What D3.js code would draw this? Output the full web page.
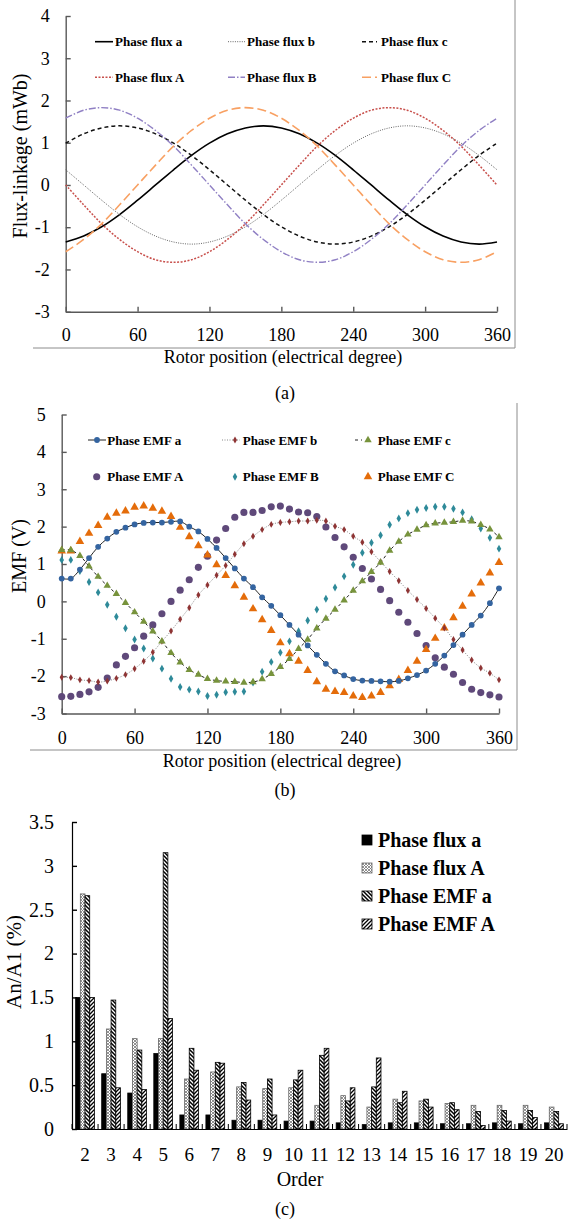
<!DOCTYPE html>
<html>
<head>
<meta charset="utf-8">
<script src="https://cdn.jsdelivr.net/npm/d3@7"></script>
<style>
  body { margin: 0; background: #fff; }
  svg { display: block; font-family: "Liberation Serif", "Times New Roman", serif; }
</style>
</head>
<body>
<svg id="fig" width="570" height="1221"></svg>
<script>
// ---- (a) flux-linkage, mWb, every 15 deg
const fluxDeg = [0,15,30,45,60,75,90,105,120,135,150,165,180,195,210,225,240,255,270,285,300,315,330,345,360]
const flux_a = [-1.35,-1.21,-0.99,-0.70,-0.36,0,0.36,0.70,0.99,1.21,1.35,1.40,1.35,1.21,0.99,0.70,0.36,0,-0.36,-0.70,-0.99,-1.21,-1.35,-1.40,-1.35]
const flux_b = [0.36,0,-0.36,-0.70,-0.99,-1.21,-1.35,-1.40,-1.35,-1.21,-0.99,-0.70,-0.36,0,0.36,0.70,0.99,1.21,1.35,1.40,1.35,1.21,0.99,0.70,0.36]
const flux_c = [0.99,1.21,1.35,1.40,1.35,1.21,0.99,0.70,0.36,0,-0.36,-0.70,-0.99,-1.21,-1.35,-1.40,-1.35,-1.21,-0.99,-0.70,-0.36,0,0.36,0.70,0.99]
const flux_A = [0,-0.47,-0.92,-1.29,-1.58,-1.77,-1.83,-1.77,-1.58,-1.29,-0.92,-0.47,0,0.47,0.92,1.29,1.58,1.77,1.83,1.77,1.58,1.29,0.92,0.47,0]
const flux_B = [1.58,1.77,1.83,1.77,1.58,1.29,0.92,0.47,0,-0.47,-0.92,-1.29,-1.58,-1.77,-1.83,-1.77,-1.58,-1.29,-0.92,-0.47,0,0.47,0.92,1.29,1.58]
const flux_C = [-1.58,-1.29,-0.92,-0.47,0,0.47,0.92,1.29,1.58,1.77,1.83,1.77,1.58,1.29,0.92,0.47,0,-0.47,-0.92,-1.29,-1.58,-1.77,-1.83,-1.77,-1.58]

// ---- (b) EMF, V, every 7.5 deg
const emfDeg = [0,7.5,15,22.5,30,37.5,45,52.5,60,67.5,75,82.5,90,97.5,105,112.5,120,127.5,135,142.5,150,157.5,165,172.5,180,187.5,195,202.5,210,217.5,225,232.5,240,247.5,255,262.5,270,277.5,285,292.5,300,307.5,315,322.5,330,337.5,345,352.5,360]
const emf_a = [0.61,0.61,0.85,1.16,1.46,1.68,1.86,1.97,2.06,2.10,2.11,2.11,2.13,2.14,2.00,1.87,1.67,1.43,1.16,0.88,0.61,0.38,0.11,-0.12,-0.37,-0.63,-0.89,-1.18,-1.43,-1.67,-1.87,-1.98,-2.08,-2.12,-2.13,-2.14,-2.15,-2.13,-2.06,-1.97,-1.85,-1.67,-1.45,-1.17,-0.89,-0.63,-0.38,-0.05,0.35]
const emf_b = [-2.03,-2.04,-2.10,-2.12,-2.16,-2.13,-2.06,-1.96,-1.80,-1.60,-1.36,-1.07,-0.79,-0.48,-0.17,0.17,0.44,0.70,0.96,1.26,1.54,1.74,1.92,2.06,2.11,2.13,2.15,2.15,2.17,2.15,2.01,1.92,1.74,1.58,1.33,1.06,0.80,0.55,0.29,0.05,-0.19,-0.45,-0.71,-1.02,-1.30,-1.57,-1.78,-1.92,-2.10]
const emf_c = [1.38,1.37,1.22,0.94,0.66,0.42,0.20,-0.04,-0.29,-0.54,-0.80,-1.07,-1.38,-1.63,-1.83,-1.96,-2.07,-2.12,-2.14,-2.15,-2.17,-2.16,-2.08,-1.94,-1.75,-1.54,-1.27,-1.02,-0.72,-0.46,-0.22,0.03,0.29,0.54,0.79,1.04,1.36,1.60,1.79,1.92,2.04,2.09,2.11,2.13,2.16,2.14,2.05,1.93,1.72]
const emf_A = [-2.55,-2.54,-2.49,-2.42,-2.30,-2.05,-1.70,-1.47,-1.24,-0.93,-0.63,-0.33,0.00,0.30,0.58,0.91,1.21,1.64,1.95,2.25,2.38,2.38,2.43,2.53,2.55,2.47,2.39,2.37,2.27,1.99,1.71,1.46,1.18,0.88,0.60,0.32,0.02,-0.29,-0.56,-0.86,-1.18,-1.51,-1.76,-1.95,-2.17,-2.35,-2.44,-2.50,-2.56]
const emf_B = [1.11,1.11,0.81,0.52,0.24,-0.09,-0.41,-0.72,-1.02,-1.26,-1.53,-1.80,-2.07,-2.29,-2.36,-2.41,-2.53,-2.50,-2.43,-2.42,-2.41,-2.17,-1.88,-1.62,-1.37,-1.07,-0.80,-0.51,-0.22,0.07,0.37,0.67,0.98,1.30,1.57,1.77,2.05,2.22,2.36,2.45,2.50,2.53,2.53,2.48,2.38,2.20,1.95,1.70,1.41]
const emf_C = [1.35,1.35,1.60,1.82,2.03,2.25,2.36,2.42,2.52,2.55,2.49,2.41,2.27,1.98,1.73,1.49,1.24,0.98,0.69,0.42,0.11,-0.20,-0.49,-0.78,-1.11,-1.40,-1.60,-1.85,-2.15,-2.35,-2.41,-2.44,-2.53,-2.57,-2.53,-2.44,-2.26,-2.09,-1.85,-1.60,-1.29,-0.99,-0.71,-0.44,-0.13,0.20,0.49,0.76,1.04]

// ---- (c) harmonic content An/A1 (%)
const orders = ['2','3','4','5','6','7','8','9','10','11','12','13','14','15','16','17','18','19','20']
const h_flux_a = [1.50,0.63,0.41,0.86,0.16,0.16,0.10,0.10,0.09,0.09,0.07,0.05,0.07,0.07,0.06,0.06,0.07,0.06,0.07]
const h_flux_A = [2.68,1.14,1.03,1.03,0.57,0.65,0.48,0.46,0.47,0.27,0.38,0.25,0.34,0.32,0.29,0.27,0.27,0.27,0.25]
const h_emf_a  = [2.66,1.47,0.90,3.15,0.92,0.76,0.53,0.57,0.56,0.84,0.32,0.48,0.30,0.34,0.30,0.20,0.21,0.21,0.20]
const h_emf_A  = [1.50,0.47,0.45,1.26,0.67,0.75,0.33,0.16,0.67,0.92,0.47,0.81,0.43,0.25,0.22,0.04,0.09,0.13,0.06]

const svg = d3.select('#fig')
const serif = '"Liberation Serif", "Times New Roman", serif'
const axisGrey = '#595959'
const plain = d => String(d)   // keeps the ascii hyphen as minus sign

// frame lines left over from the spreadsheet chart boxes
function frame(x0, x1, yTop, yBot){
	svg.append('path')
		.attr('d', `M${x0},${yBot}H${x1}V${yTop}`)
		.attr('fill','none').attr('stroke','#8c8c8c').attr('stroke-width',1)
}
frame(33, 515, 0, 348)
frame(30, 517, 403, 750)

function styleAxis(g, color, fs){
	g.attr('font-family', null)
	g.select('.domain').attr('stroke', color).attr('stroke-width', 1.4)
	g.selectAll('.tick line').attr('stroke', color).attr('stroke-width', 1.4)
	g.selectAll('.tick text').attr('fill','#000').style('font-family', serif).style('font-size', fs + 'px')
}

// ================= (a) =================
const xa = d3.scaleLinear().domain([0,360]).range([65.7,497])
const ya = d3.scaleLinear().domain([-3,4]).range([311.7,16])

const gxa = svg.append('g').attr('transform','translate(0,' + ya(-3) + ')')
	.call(d3.axisBottom(xa).tickValues([0,60,120,180,240,300,360]).tickFormat(plain).tickSize(-5).tickSizeOuter(0).tickPadding(17))
styleAxis(gxa, axisGrey, 18)
const gya = svg.append('g').attr('transform','translate(' + xa(0) + ',0)')
	.call(d3.axisLeft(ya).tickValues([-3,-2,-1,0,1,2,3,4]).tickFormat(plain).tickSize(-5).tickSizeOuter(0).tickPadding(16))
styleAxis(gya, axisGrey, 18)

const fluxSeries = [
	{name:'Phase flux a', v:flux_a, color:'#000', dash:null, w:1.6},
	{name:'Phase flux b', v:flux_b, color:'#666', dash:'1,1.3', w:1},
	{name:'Phase flux c', v:flux_c, color:'#111', dash:'4,3', w:1.5},
	{name:'Phase flux A', v:flux_A, color:'#c8504c', dash:'2,1.5', w:1.5},
	{name:'Phase flux B', v:flux_B, color:'#9080c4', dash:'7,2,1.5,2', w:1.4},
	{name:'Phase flux C', v:flux_C, color:'#f8a062', dash:'9,4', w:1.6}
]
const lineA = d3.line().x((d,i)=>xa(fluxDeg[i])).y(d=>ya(d)).curve(d3.curveCatmullRom)
svg.append('g').selectAll('path').data(fluxSeries).join('path')
	.attr('d', s=>lineA(s.v))
	.attr('fill','none').attr('stroke', s=>s.color).attr('stroke-width', s=>s.w)
	.attr('stroke-dasharray', s=>s.dash)

const legA = [[95,113,115,41.7],[228,245,247,41.7],[362,377,381,41.7],[95,113,115,77.3],[228,245,247,77.3],[362,377,381,77.3]]
fluxSeries.forEach((s,i)=>{
	const [l0,l1,tx,ty] = legA[i]
	svg.append('line').attr('x1',l0).attr('x2',l1).attr('y1',ty).attr('y2',ty)
		.attr('stroke',s.color).attr('stroke-width',s.w).attr('stroke-dasharray',s.dash)
	svg.append('text').attr('x',tx).attr('y',ty+4.5).text(s.name)
		.style('font-size','13px').style('font-weight','bold')
})

svg.append('text').attr('x',283).attr('y',363).attr('text-anchor','middle')
	.style('font-size','18px').text('Rotor position (electrical degree)')
svg.append('text').attr('transform','translate(27,156) rotate(-90)').attr('text-anchor','middle')
	.style('font-size','20px').text('Flux-linkage (mWb)')
svg.append('text').attr('x',285).attr('y',399).attr('text-anchor','middle')
	.style('font-size','18px').text('(a)')

// ================= (b) =================
const xb = d3.scaleLinear().domain([0,360]).range([61.7,499])
const yb = d3.scaleLinear().domain([-3,5]).range([713.5,414.5])

const gxb = svg.append('g').attr('transform','translate(0,' + yb(-3) + ')')
	.call(d3.axisBottom(xb).tickValues([0,60,120,180,240,300,360]).tickFormat(plain).tickSize(-5).tickSizeOuter(0).tickPadding(18))
styleAxis(gxb, axisGrey, 18)
const gyb = svg.append('g').attr('transform','translate(' + xb(0) + ',0)')
	.call(d3.axisLeft(yb).tickValues([-3,-2,-1,0,1,2,3,4,5]).tickFormat(plain).tickSize(-5).tickSizeOuter(0).tickPadding(16))
styleAxis(gyb, axisGrey, 18)

const emfSeries = [
	{name:'Phase EMF a', v:emf_a, color:'#3464a0', sym:d3.symbolCircle, size:26, line:'#222', dash:null},
	{name:'Phase EMF b', v:emf_b, color:'#8e3434', sym:d3.symbolDiamond, size:14, line:'#888', dash:'1,1.5'},
	{name:'Phase EMF c', v:emf_c, color:'#77933c', sym:d3.symbolTriangle, size:24, line:'#222', dash:'3,3'},
	{name:'Phase EMF A', v:emf_A, color:'#5f497a', sym:d3.symbolCircle, size:40, line:null},
	{name:'Phase EMF B', v:emf_B, color:'#2e8a99', sym:d3.symbolDiamond, size:18, line:null},
	{name:'Phase EMF C', v:emf_C, color:'#e46c0a', sym:d3.symbolTriangle, size:32, line:null}
]
const lineB = d3.line().x((d,i)=>xb(emfDeg[i])).y(d=>yb(d)).curve(d3.curveCatmullRom)
// marker-only phases go underneath, line+marker phases on top
const drawOrder = [3,4,5,1,2,0]
drawOrder.forEach(k=>{
	const s = emfSeries[k]
	const g = svg.append('g')
	if(s.line){
		g.append('path').attr('d', lineB(s.v)).attr('fill','none')
			.attr('stroke', s.line).attr('stroke-width',1).attr('stroke-dasharray', s.dash)
	}
	g.selectAll('path.m').data(s.v).join('path').attr('class','m')
		.attr('transform',(d,i)=>`translate(${xb(emfDeg[i])},${yb(d)})`)
		.attr('d', d3.symbol().type(s.sym).size(s.size))
		.attr('fill', s.color)
})

const legB = [[88,106,97,107.3,440],[222,240,235,242.7,440],[355,362,368,377.7,440],
	[null,null,96.7,107.3,476.7],[null,null,235,242.7,476.7],[null,null,368,377.7,476.7]]
emfSeries.forEach((s,i)=>{
	const [l0,l1,mx,tx,ty] = legB[i]
	if(l0 !== null){
		svg.append('line').attr('x1',l0).attr('x2',l1).attr('y1',ty).attr('y2',ty)
			.attr('stroke',s.line).attr('stroke-width',1).attr('stroke-dasharray',s.dash)
	}
	svg.append('path').attr('transform',`translate(${mx},${ty})`)
		.attr('d', d3.symbol().type(s.sym).size(s.size)).attr('fill', s.color)
	svg.append('text').attr('x',tx).attr('y',ty+4.5).text(s.name)
		.style('font-size','13px').style('font-weight','bold')
})

svg.append('text').attr('x',282).attr('y',767).attr('text-anchor','middle')
	.style('font-size','18px').text('Rotor position (electrical degree)')
svg.append('text').attr('transform','translate(26,556) rotate(-90)').attr('text-anchor','middle')
	.style('font-size','20px').text('EMF (V)')
svg.append('text').attr('x',285).attr('y',796).attr('text-anchor','middle')
	.style('font-size','18px').text('(b)')

// ================= (c) =================
const defs = svg.append('defs')
function hatch(id, d, color, w, size){
	const p = defs.append('pattern').attr('id',id).attr('patternUnits','userSpaceOnUse')
		.attr('width',size).attr('height',size)
	p.append('rect').attr('width',size).attr('height',size).attr('fill','#fff')
	p.append('path').attr('d',d).attr('stroke',color).attr('stroke-width',w).attr('fill','none')
}
hatch('pCross', 'M0,0L3,3M3,0L0,3', '#777', 0.8, 3)
hatch('pBack', 'M-1,-1L5,5M-1,3L1,5M3,-1L5,1', '#000', 1.5, 4)
hatch('pFwd', 'M-1,5L5,-1M-1,1L1,-1M3,5L5,3', '#000', 1.3, 4)

const barKeys = ['Phase flux a','Phase flux A','Phase EMF a','Phase EMF A']
const barVals = [h_flux_a, h_flux_A, h_emf_a, h_emf_A]
const barFill = ['#000','url(#pCross)','url(#pBack)','url(#pFwd)']
const barStroke = ['#000','#666','#000','#000']

const xc = d3.scaleBand().domain(orders).range([72,567]).paddingInner(0.28).paddingOuter(0.14)
const xs = d3.scaleBand().domain(barKeys).range([0, xc.bandwidth()])
const yc = d3.scaleLinear().domain([0,3.5]).range([1129,822])

barKeys.forEach((k,j)=>{
	svg.append('g').selectAll('rect').data(barVals[j]).join('rect')
		.attr('x',(d,i)=>xc(orders[i]) + xs(k))
		.attr('y',d=>yc(d))
		.attr('width', xs.bandwidth())
		.attr('height',d=>yc(0)-yc(d))
		.attr('fill', barFill[j]).attr('stroke', barStroke[j]).attr('stroke-width',0.8)
})

const gyc = svg.append('g').attr('transform','translate(72,0)')
	.call(d3.axisLeft(yc).tickValues([0,0.5,1,1.5,2,2.5,3,3.5]).tickFormat(plain).tickSize(-5).tickSizeOuter(0).tickPadding(18))
styleAxis(gyc, '#000', 20)
gyc.select('.domain').attr('stroke-width',1.2)
const gxc = svg.append('g').attr('transform','translate(0,1129)')
	.call(d3.axisBottom(xc).tickSize(0).tickPadding(19))
styleAxis(gxc, '#000', 19)
gxc.select('.domain').attr('stroke-width',1.2)
// category separator ticks
svg.append('g').selectAll('line').data(orders.concat(['end'])).join('line')
	.attr('x1',(d,i)=>72 + i*xc.step()).attr('x2',(d,i)=>72 + i*xc.step())
	.attr('y1',1129).attr('y2',1124).attr('stroke','#000').attr('stroke-width',1)

const legC = [840, 868, 896, 924]
barKeys.forEach((k,j)=>{
	svg.append('rect').attr('x',362).attr('y',legC[j]-5).attr('width',10).attr('height',10)
		.attr('fill', barFill[j]).attr('stroke', barStroke[j]).attr('stroke-width',0.8)
	svg.append('text').attr('x',378).attr('y',legC[j]+7).text(k)
		.style('font-size','20px').style('font-weight','bold')
})

svg.append('text').attr('x',300).attr('y',1186).attr('text-anchor','middle')
	.style('font-size','20px').text('Order')
svg.append('text').attr('transform','translate(21,962) rotate(-90)').attr('text-anchor','middle')
	.style('font-size','21px').text('An/A1 (%)')
svg.append('text').attr('x',285).attr('y',1215).attr('text-anchor','middle')
	.style('font-size','18px').text('(c)')
</script>
</body>
</html>
